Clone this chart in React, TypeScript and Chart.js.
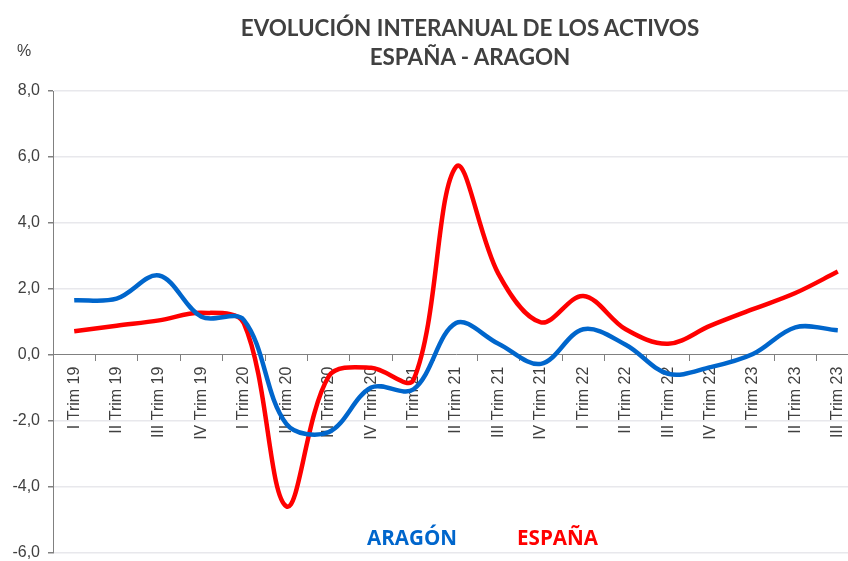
import React, { useEffect, useRef } from "react";
import { Chart, registerables } from "chart.js";

Chart.register(...registerables);

const categories = [
  "I Trim 19", "II Trim 19", "III Trim 19", "IV Trim 19",
  "I Trim 20", "II Trim 20", "III Trim 20", "IV Trim 20",
  "I Trim 21", "II Trim 21", "III Trim 21", "IV Trim 21",
  "I Trim 22", "II Trim 22", "III Trim 22", "IV Trim 22",
  "I Trim 23", "II Trim 23", "III Trim 23",
];

const aragon = [1.65, 1.7, 2.4, 1.15, 1.05, -2.1, -2.35, -1.0, -1.05, 0.96, 0.33, -0.28, 0.77, 0.3, -0.58, -0.38, 0.02, 0.83, 0.74];
const espana = [0.71, 0.88, 1.04, 1.27, 0.95, -4.6, -0.66, -0.4, -0.76, 5.7, 2.45, 0.98, 1.78, 0.77, 0.33, 0.88, 1.38, 1.87, 2.52];

const yMin = -6;
const yMax = 8;
const yStep = 2;

const titleLines = ["EVOLUCIÓN INTERANUAL DE LOS ACTIVOS", "ESPAÑA - ARAGON"];
const legendNames = ["ARAGÓN", "ESPAÑA"];
const blue = "#0066CC";
const red = "#FF0000";

export default function App() {
  const ref = useRef<HTMLCanvasElement | null>(null);

  useEffect(() => {
    document.body.style.margin = "0";
    const canvas = ref.current;
    if (!canvas) return;
    const chart = new Chart(canvas, {
      type: "line",
      data: {
        labels: categories,
        datasets: [
          {
            label: legendNames[0],
            data: aragon,
            borderColor: blue,
            backgroundColor: blue,
            borderWidth: 4.5,
            pointRadius: 0,
            tension: 0.35,
            borderJoinStyle: "round",
          },
          {
            label: legendNames[1],
            data: espana,
            borderColor: red,
            backgroundColor: red,
            borderWidth: 4.5,
            pointRadius: 0,
            tension: 0.35,
            borderJoinStyle: "round",
          },
        ],
      },
      options: {
        responsive: false,
        animation: false,
        devicePixelRatio: 1,
        layout: { padding: { top: 91, bottom: 8, left: 0, right: 21 } },
        plugins: {
          legend: { display: false },
          title: { display: false },
          tooltip: { enabled: false },
        },
        scales: {
          x: {
            type: "category",
            position: { y: 0 },
            offset: true,
            grid: {
              offset: true,
              drawOnChartArea: false,
              drawTicks: true,
              tickLength: 6,
              tickColor: "#808080",
              color: "#808080",
            },
            border: { display: true, color: "#808080", width: 1 },
            ticks: {
              autoSkip: false,
              minRotation: 90,
              maxRotation: 90,
              padding: 6,
              color: "#404040",
              font: { family: "'Liberation Sans', Arial, sans-serif", size: 16 },
            },
          },
          y: {
            type: "linear",
            min: yMin,
            max: yMax,
            afterFit: (scale: any) => {
              scale.width = 53;
            },
            grid: {
              color: (ctx: any) => (ctx.tick && ctx.tick.value === 0 ? "rgba(0,0,0,0)" : "#e8e8ec"),
              lineWidth: 1.5,
              drawTicks: true,
              tickLength: 5,
              tickColor: "#808080",
            },
            border: { display: true, color: "#808080", width: 1 },
            ticks: {
              stepSize: yStep,
              padding: 8,
              color: "#404040",
              font: { family: "'Liberation Sans', Arial, sans-serif", size: 16 },
              callback: (v: any) => Number(v).toFixed(1).replace(".", ","),
            },
          },
        },
      },
    });
    return () => chart.destroy();
  }, []);

  return (
    <div style={{ position: "relative", width: 848, height: 561, overflow: "hidden", background: "#fff" }}>
      <canvas ref={ref} width={880} height={570} style={{ position: "absolute", left: 0, top: 0, width: 880, height: 570 }} />
      <div
        style={{
          position: "absolute",
          left: 170,
          width: 600,
          top: 13,
          textAlign: "center",
          fontFamily: "Lato, sans-serif",
          fontWeight: 700,
          fontSize: 22.4,
          lineHeight: "29px",
          color: "#404040",
        }}
      >
        <div>{titleLines[0]}</div>
        <div>{titleLines[1]}</div>
      </div>
      <div
        style={{
          position: "absolute",
          left: 17,
          top: 42,
          fontFamily: "'Liberation Sans', Arial, sans-serif",
          fontSize: 16,
          color: "#404040",
        }}
      >
        %
      </div>
      <div
        style={{
          position: "absolute",
          left: 367,
          top: 523,
          fontFamily: "'Open Sans', sans-serif",
          fontWeight: 700,
          fontSize: 20.6,
          lineHeight: "28px",
          color: blue,
        }}
      >
        {legendNames[0]}
      </div>
      <div
        style={{
          position: "absolute",
          left: 517,
          top: 523,
          fontFamily: "'Open Sans', sans-serif",
          fontWeight: 700,
          fontSize: 20.6,
          lineHeight: "28px",
          color: red,
        }}
      >
        {legendNames[1]}
      </div>
    </div>
  );
}
